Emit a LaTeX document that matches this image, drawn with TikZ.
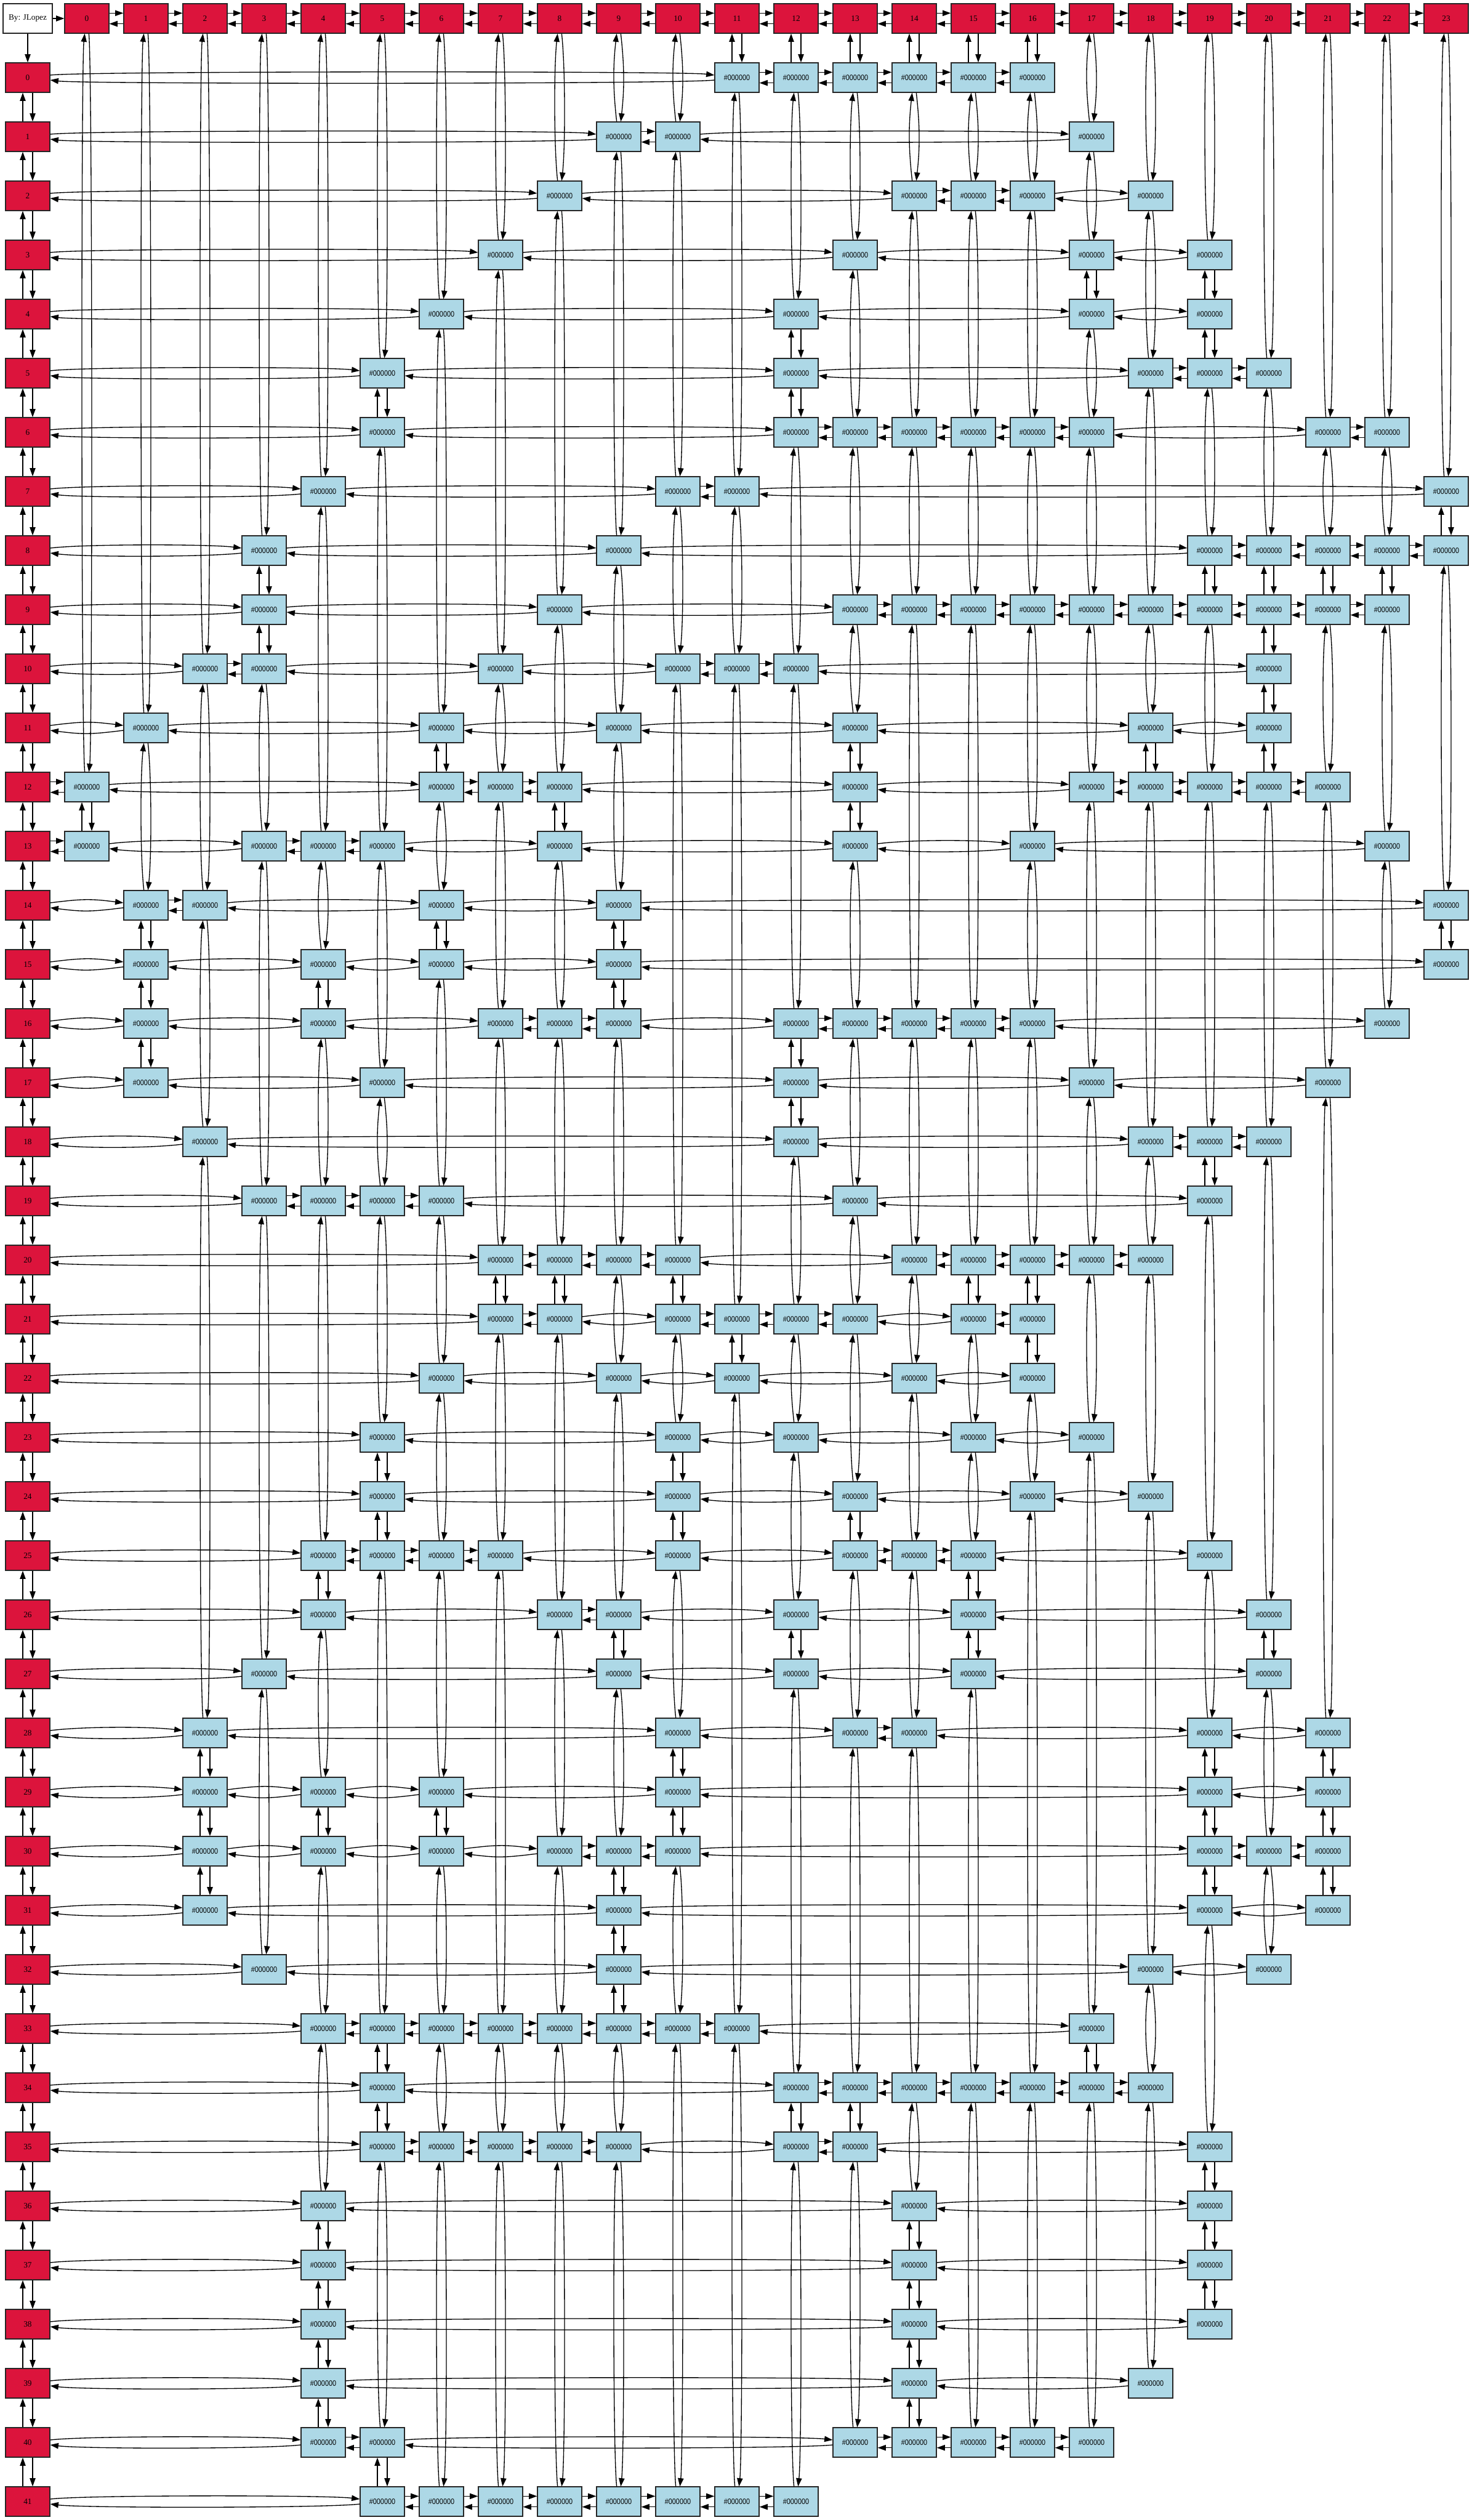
\documentclass[tikz,border=0pt]{standalone}
\usepackage{fontspec}
\usepackage{tikz}
\usetikzlibrary{arrows.meta}
\newfontfamily\headfont{Liberation Serif}
\newfontfamily\cellfont{Liberation Sans}[FakeStretch=0.86]
\definecolor{hdrred}{RGB}{220,20,60}
\definecolor{cellblue}{RGB}{173,216,230}
% double link, left to right / top to bottom
\newcommand{\hlink}[3]{%
\ifnum#3=1
\draw[link]([yshift=6.5bp]#1.east)--([yshift=6.5bp]#2.west);
\draw[link]([yshift=-6.5bp]#2.west)--([yshift=-6.5bp]#1.east);
\else
\draw[link]([yshift=3bp]#1.east) .. controls +(40bp,5bp) and +(-40bp,5bp) .. ([yshift=3bp]#2.west);
\draw[link]([yshift=-3bp]#2.west) .. controls +(-40bp,-5bp) and +(40bp,-5bp) .. ([yshift=-3bp]#1.east);
\fi}
\newcommand{\vlink}[3]{%
\ifnum#3=1
\draw[link]([xshift=6bp]#1.south)--([xshift=6bp]#2.north);
\draw[link]([xshift=-6bp]#2.north)--([xshift=-6bp]#1.south);
\else
\draw[link]([xshift=2.5bp]#1.south) .. controls +(4.5bp,-40bp) and +(4.5bp,40bp) .. ([xshift=2.5bp]#2.north);
\draw[link]([xshift=-2.5bp]#2.north) .. controls +(-4.5bp,40bp) and +(-4.5bp,-40bp) .. ([xshift=-2.5bp]#1.south);
\fi}
\begin{document}
\begin{tikzpicture}[x=72bp, y=-72bp,
  hdr/.style={draw=black!85, line width=0.9bp, fill=hdrred, minimum width=54bp, minimum height=36bp, inner sep=0pt, font=\headfont\fontsize{10}{12}\selectfont},
  cell/.style={draw=black!85, line width=0.9bp, fill=cellblue, minimum width=54bp, minimum height=36bp, inner sep=0pt, font=\cellfont\fontsize{9.5}{11}\selectfont},
  link/.style={draw=black, line width=1bp, -{Triangle[length=10bp,width=7bp]}}]
\useasboundingbox (-1.46875,-1.3125) rectangle (23.4375,41.3125);
\node[draw=black!85, line width=0.9bp, fill=white, minimum width=60bp, minimum height=36bp, inner sep=0pt, font=\headfont\fontsize{10}{12}\selectfont] (author) at (-1,-1) {By: JLopez};
\foreach \j in {0,...,23}{
  \node[hdr] (n-1-\j) at (\j,-1) {\j};
  \expandafter\xdef\csname lastrow\j\endcsname{-1}}
\foreach \i in {0,...,41} \node[hdr] (n\i--1) at (-1,\i) {\i};
\draw[link](author)--(n-1-0);
\draw[link](author)--(n0--1);
\foreach \j [count=\k from 1] in {0,...,22} \hlink{n-1-\j}{n-1-\k}{1};
\foreach \i [count=\k from 1] in {0,...,40} \vlink{n\i--1}{n\k--1}{1};
\foreach \i/\cols in {0/{11,12,13,14,15,16},1/{9,10,17},2/{8,14,15,16,18},3/{7,13,17,19},
  4/{6,12,17,19},5/{5,12,18,19,20},6/{5,12,13,14,15,16,17,21,22},7/{4,10,11,23},
  8/{3,9,19,20,21,22,23},9/{3,8,13,14,15,16,17,18,19,20,21,22},10/{2,3,7,10,11,12,20},
  11/{1,6,9,13,18,20},12/{0,6,7,8,13,17,18,19,20,21},13/{0,3,4,5,8,13,16,22},
  14/{1,2,6,9,23},15/{1,4,6,9,23},16/{1,4,7,8,9,12,13,14,15,16,22},17/{1,5,12,17,21},
  18/{2,12,18,19,20},19/{3,4,5,6,13,19},20/{7,8,9,10,14,15,16,17,18},
  21/{7,8,10,11,12,13,15,16},22/{6,9,11,14,16},23/{5,10,12,15,17},24/{5,10,13,16,18},
  25/{4,5,6,7,10,13,14,15,19},26/{4,8,9,12,15,20},27/{3,9,12,15,20},28/{2,10,13,14,19,21},
  29/{2,4,6,10,19,21},30/{2,4,6,8,9,10,19,20,21},31/{2,9,19,21},32/{3,9,18,20},
  33/{4,5,6,7,8,9,10,11,17},34/{5,12,13,14,15,16,17,18},35/{5,6,7,8,9,12,13,19},
  36/{4,14,19},37/{4,14,19},38/{4,14,19},39/{4,14,18},40/{4,5,13,14,15,16,17},
  41/{5,6,7,8,9,10,11,12}}{
  \xdef\lastcol{-1}
  \foreach \j in \cols{
    \node[cell] (n\i-\j) at (\j,\i) {\#000000};
    \pgfmathtruncatemacro\hgap{\j-(\lastcol)}
    \hlink{n\i-\lastcol}{n\i-\j}{\hgap}
    \xdef\lastcol{\j}
    \edef\uprow{\csname lastrow\j\endcsname}
    \pgfmathtruncatemacro\vgap{\i-(\uprow)}
    \vlink{n\uprow-\j}{n\i-\j}{\vgap}
    \expandafter\xdef\csname lastrow\j\endcsname{\i}}}
\end{tikzpicture}
\end{document}
